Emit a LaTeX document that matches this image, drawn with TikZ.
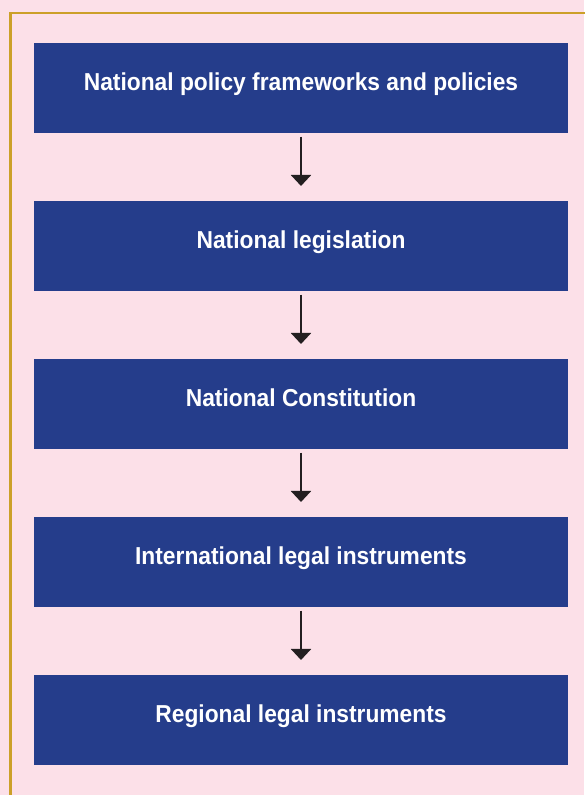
\documentclass[tikz,border=0pt]{standalone}
\usepackage{fontspec}
\setmainfont{Liberation Sans}[FakeStretch=0.93]
\usepackage{tikz}
\usetikzlibrary{positioning}
\usetikzlibrary{arrows.meta}

\definecolor{bgpink}{RGB}{252,224,232}
\definecolor{boxblue}{RGB}{37,61,139}
\definecolor{framegold}{RGB}{204,160,40}
\definecolor{arrowdark}{RGB}{35,31,32}

\tikzset{
  levelbox/.style={fill=boxblue, text=white, inner sep=0pt, outer sep=0pt,
    minimum width=534pt, minimum height=90pt, text height=18pt, text depth=13pt,
    font=\bfseries\fontsize{24.5}{29}\selectfont, align=center},
  downarrow/.style={-{Triangle[width=20pt,length=11pt]}, line width=2pt,
    draw=arrowdark, fill=arrowdark, shorten <=4pt, shorten >=15pt}
}

\begin{document}
\begin{tikzpicture}[node distance=68pt]

      \fill[bgpink] (0pt,0pt) rectangle (584pt,795pt);
      \useasboundingbox (0pt,0pt) rectangle (584pt,795pt);
      \draw[framegold, line width=2.5pt] (10.5pt,-2pt) -- (10.5pt,782pt) -- (586pt,782pt);

      \node[levelbox] (p1) at (301pt,707pt) {National policy frameworks and policies};

      \node[levelbox, below=of p1] (p2) {National legislation};

      \node[levelbox, below=of p2] (p3) {National Constitution};

      \node[levelbox, below=of p3] (p4) {International legal instruments};

      \node[levelbox, below=of p4] (p5) {Regional legal instruments};

      \draw[downarrow] (p1) -- (p2);
      \draw[downarrow] (p2) -- (p3);
      \draw[downarrow] (p3) -- (p4);
      \draw[downarrow] (p4) -- (p5);

  \end{tikzpicture}
\end{document}
